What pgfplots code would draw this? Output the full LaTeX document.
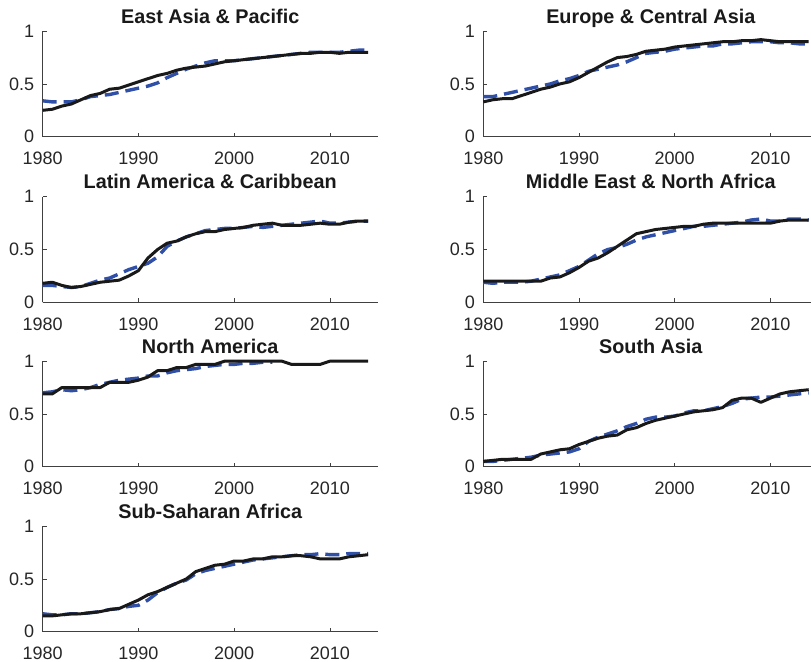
\documentclass[border=0pt]{standalone}
\usepackage{pgfplots}
\pgfplotsset{compat=1.18}
\usepackage{fontspec}
\setmainfont{Liberation Sans}
\definecolor{blueline}{HTML}{3050A8}
\definecolor{axgray}{HTML}{404040}
\pgfplotsset{
  panel/.style={
    scale only axis, width=335bp, height=105.5bp,
    xmin=1980, xmax=2015, ymin=0, ymax=1,
    axis x line*=bottom, axis y line*=left,
    axis line style={axgray, line width=0.6bp, -},
    xtick={1980,1990,2000,2010}, ytick={0,0.5,1},
    yticklabels={0,0.5,1},
    xticklabels={1980,1990,2000,2010},
    tick align=inside, major tick length=4bp,
    tick style={axgray, line width=0.6bp},
    ticklabel style={font=\fontsize{18bp}{20bp}\selectfont, text=black!85},
    xticklabel style={anchor=base, yshift=-28bp},
    yticklabel style={anchor=east, xshift=-5bp},
    /pgf/number format/assume math mode=true,
    every axis title/.style={at={(0.5,1)}, anchor=base, yshift=8bp, font=\fontsize{19.8bp}{22bp}\selectfont\bfseries, text=black!90},
    clip=false,
  },
  blk/.style={black!90, line width=3bp, line join=round},
  blu/.style={blueline, line width=3.4bp, dash pattern=on 14bp off 7bp},
}
\begin{document}
\begin{tikzpicture}
% Row 1 left
\begin{axis}[panel, at={(42.7bp,525.3bp)}, title={East Asia \& Pacific}]
\addplot[blu] coordinates {(1980,0.34)(1981,0.33)(1982,0.33)(1983,0.33)(1984,0.35)(1985,0.38)(1986,0.39)(1987,0.40)(1988,0.42)(1989,0.44)(1990,0.46)(1991,0.48)(1992,0.51)(1993,0.56)(1994,0.60)(1995,0.64)(1996,0.67)(1997,0.70)(1998,0.72)(1999,0.72)(2000,0.72)(2001,0.73)(2002,0.74)(2003,0.75)(2004,0.76)(2005,0.77)(2006,0.78)(2007,0.79)(2008,0.80)(2009,0.80)(2010,0.80)(2011,0.80)(2012,0.81)(2013,0.82)(2014,0.82)};
\addplot[blk] coordinates {(1980,0.25)(1981,0.26)(1982,0.29)(1983,0.31)(1984,0.35)(1985,0.39)(1986,0.41)(1987,0.45)(1988,0.46)(1989,0.49)(1990,0.52)(1991,0.55)(1992,0.58)(1993,0.60)(1994,0.63)(1995,0.65)(1996,0.66)(1997,0.67)(1998,0.69)(1999,0.71)(2000,0.72)(2001,0.73)(2002,0.74)(2003,0.75)(2004,0.76)(2005,0.77)(2006,0.78)(2007,0.79)(2008,0.79)(2009,0.80)(2010,0.80)(2011,0.79)(2012,0.80)(2013,0.80)(2014,0.80)};
\end{axis}
% Row 1 right
\begin{axis}[panel, at={(483.3bp,525.3bp)}, title={Europe \& Central Asia}]
\addplot[blu] coordinates {(1980,0.38)(1981,0.38)(1982,0.40)(1983,0.42)(1984,0.44)(1985,0.46)(1986,0.48)(1987,0.50)(1988,0.53)(1989,0.55)(1990,0.58)(1991,0.62)(1992,0.64)(1993,0.66)(1994,0.68)(1995,0.71)(1996,0.75)(1997,0.79)(1998,0.80)(1999,0.81)(2000,0.83)(2001,0.84)(2002,0.85)(2003,0.86)(2004,0.86)(2005,0.88)(2006,0.88)(2007,0.89)(2008,0.90)(2009,0.90)(2010,0.90)(2011,0.89)(2012,0.89)(2013,0.88)(2014,0.88)};
\addplot[blk] coordinates {(1980,0.33)(1981,0.35)(1982,0.36)(1983,0.36)(1984,0.39)(1985,0.42)(1986,0.45)(1987,0.47)(1988,0.50)(1989,0.52)(1990,0.56)(1991,0.61)(1992,0.66)(1993,0.71)(1994,0.75)(1995,0.76)(1996,0.78)(1997,0.81)(1998,0.82)(1999,0.83)(2000,0.85)(2001,0.86)(2002,0.87)(2003,0.88)(2004,0.89)(2005,0.90)(2006,0.90)(2007,0.91)(2008,0.91)(2009,0.92)(2010,0.91)(2011,0.90)(2012,0.90)(2013,0.90)(2014,0.90)};
\end{axis}
% Row 2 left
\begin{axis}[panel, at={(42.7bp,359.7bp)}, title={Latin America \& Caribbean}]
\addplot[blu] coordinates {(1980,0.16)(1981,0.16)(1982,0.15)(1983,0.14)(1984,0.15)(1985,0.18)(1986,0.21)(1987,0.23)(1988,0.27)(1989,0.31)(1990,0.34)(1991,0.37)(1992,0.43)(1993,0.53)(1994,0.58)(1995,0.62)(1996,0.65)(1997,0.68)(1998,0.69)(1999,0.70)(2000,0.70)(2001,0.71)(2002,0.72)(2003,0.71)(2004,0.72)(2005,0.73)(2006,0.74)(2007,0.75)(2008,0.76)(2009,0.77)(2010,0.75)(2011,0.75)(2012,0.76)(2013,0.77)(2014,0.77)};
\addplot[blk] coordinates {(1980,0.18)(1981,0.19)(1982,0.16)(1983,0.14)(1984,0.15)(1985,0.17)(1986,0.19)(1987,0.20)(1988,0.21)(1989,0.25)(1990,0.30)(1991,0.42)(1992,0.50)(1993,0.56)(1994,0.58)(1995,0.62)(1996,0.65)(1997,0.67)(1998,0.67)(1999,0.69)(2000,0.70)(2001,0.71)(2002,0.73)(2003,0.74)(2004,0.75)(2005,0.73)(2006,0.73)(2007,0.73)(2008,0.74)(2009,0.75)(2010,0.74)(2011,0.74)(2012,0.76)(2013,0.77)(2014,0.77)};
\end{axis}
% Row 2 right
\begin{axis}[panel, at={(483.3bp,359.7bp)}, title={Middle East \& North Africa}]
\addplot[blu] coordinates {(1980,0.19)(1981,0.18)(1982,0.19)(1983,0.19)(1984,0.19)(1985,0.20)(1986,0.22)(1987,0.24)(1988,0.26)(1989,0.30)(1990,0.34)(1991,0.40)(1992,0.46)(1993,0.50)(1994,0.52)(1995,0.55)(1996,0.59)(1997,0.62)(1998,0.64)(1999,0.66)(2000,0.68)(2001,0.70)(2002,0.72)(2003,0.72)(2004,0.73)(2005,0.74)(2006,0.75)(2007,0.76)(2008,0.78)(2009,0.79)(2010,0.77)(2011,0.77)(2012,0.79)(2013,0.79)(2014,0.78)};
\addplot[blk] coordinates {(1980,0.20)(1981,0.20)(1982,0.20)(1983,0.20)(1984,0.20)(1985,0.20)(1986,0.20)(1987,0.23)(1988,0.24)(1989,0.28)(1990,0.33)(1991,0.39)(1992,0.42)(1993,0.47)(1994,0.53)(1995,0.59)(1996,0.65)(1997,0.67)(1998,0.69)(1999,0.70)(2000,0.71)(2001,0.72)(2002,0.72)(2003,0.74)(2004,0.75)(2005,0.75)(2006,0.75)(2007,0.75)(2008,0.75)(2009,0.75)(2010,0.75)(2011,0.77)(2012,0.78)(2013,0.78)(2014,0.78)};
\end{axis}
% Row 3 left
\begin{axis}[panel, at={(42.7bp,195.3bp)}, title={North America}]
\addplot[blu] coordinates {(1980,0.70)(1981,0.71)(1982,0.73)(1983,0.72)(1984,0.73)(1985,0.75)(1986,0.78)(1987,0.80)(1988,0.82)(1989,0.83)(1990,0.84)(1991,0.86)(1992,0.86)(1993,0.89)(1994,0.91)(1995,0.92)(1996,0.93)(1997,0.95)(1998,0.96)(1999,0.97)(2000,0.97)(2001,0.98)(2002,0.98)(2003,0.99)(2004,0.99)};
\addplot[blk] coordinates {(1980,0.69)(1981,0.69)(1982,0.75)(1983,0.75)(1984,0.75)(1985,0.75)(1986,0.75)(1987,0.80)(1988,0.80)(1989,0.80)(1990,0.82)(1991,0.85)(1992,0.91)(1993,0.91)(1994,0.94)(1995,0.94)(1996,0.97)(1997,0.97)(1998,0.97)(1999,1.00)(2000,1.00)(2001,1.00)(2002,1.00)(2003,1.00)(2004,1.00)(2005,1.00)(2006,0.97)(2007,0.97)(2008,0.97)(2009,0.97)(2010,1.00)(2011,1.00)(2012,1.00)(2013,1.00)(2014,1.00)};
\end{axis}
% Row 3 right
\begin{axis}[panel, at={(483.3bp,195.3bp)}, title={South Asia}]
\addplot[blu] coordinates {(1980,0.05)(1981,0.05)(1982,0.06)(1983,0.07)(1984,0.08)(1985,0.09)(1986,0.11)(1987,0.12)(1988,0.13)(1989,0.14)(1990,0.17)(1991,0.24)(1992,0.28)(1993,0.31)(1994,0.34)(1995,0.38)(1996,0.41)(1997,0.45)(1998,0.47)(1999,0.47)(2000,0.48)(2001,0.51)(2002,0.53)(2003,0.53)(2004,0.55)(2005,0.57)(2006,0.60)(2007,0.64)(2008,0.65)(2009,0.66)(2010,0.66)(2011,0.67)(2012,0.68)(2013,0.69)(2014,0.70)};
\addplot[blk] coordinates {(1980,0.05)(1981,0.06)(1982,0.07)(1983,0.07)(1984,0.07)(1985,0.07)(1986,0.12)(1987,0.14)(1988,0.16)(1989,0.17)(1990,0.21)(1991,0.24)(1992,0.27)(1993,0.29)(1994,0.30)(1995,0.35)(1996,0.37)(1997,0.41)(1998,0.44)(1999,0.46)(2000,0.48)(2001,0.50)(2002,0.52)(2003,0.53)(2004,0.54)(2005,0.56)(2006,0.63)(2007,0.65)(2008,0.65)(2009,0.61)(2010,0.65)(2011,0.69)(2012,0.71)(2013,0.72)(2014,0.73)};
\end{axis}
% Row 4 left
\begin{axis}[panel, at={(42.7bp,30.3bp)}, title={Sub-Saharan Africa}]
\addplot[blu] coordinates {(1980,0.17)(1981,0.16)(1982,0.16)(1983,0.17)(1984,0.17)(1985,0.18)(1986,0.19)(1987,0.21)(1988,0.22)(1989,0.24)(1990,0.25)(1991,0.30)(1992,0.37)(1993,0.42)(1994,0.46)(1995,0.49)(1996,0.55)(1997,0.58)(1998,0.60)(1999,0.62)(2000,0.64)(2001,0.66)(2002,0.68)(2003,0.69)(2004,0.70)(2005,0.71)(2006,0.72)(2007,0.73)(2008,0.73)(2009,0.74)(2010,0.73)(2011,0.73)(2012,0.74)(2013,0.74)(2014,0.74)};
\addplot[blk] coordinates {(1980,0.15)(1981,0.15)(1982,0.16)(1983,0.17)(1984,0.17)(1985,0.18)(1986,0.19)(1987,0.21)(1988,0.22)(1989,0.26)(1990,0.30)(1991,0.35)(1992,0.38)(1993,0.42)(1994,0.46)(1995,0.50)(1996,0.57)(1997,0.60)(1998,0.63)(1999,0.64)(2000,0.67)(2001,0.67)(2002,0.69)(2003,0.69)(2004,0.71)(2005,0.71)(2006,0.72)(2007,0.72)(2008,0.71)(2009,0.69)(2010,0.69)(2011,0.69)(2012,0.71)(2013,0.72)(2014,0.73)};
\end{axis}
\pgfresetboundingbox
\useasboundingbox (0,0) rectangle (811bp,662bp);
\end{tikzpicture}
\end{document}
